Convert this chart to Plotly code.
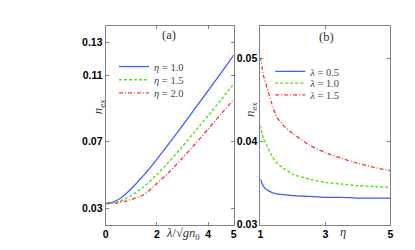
import plotly.graph_objects as go

# ---- panel (a): n_ex vs lambda/sqrt(g n0) ----
lam = [0, 0.25, 0.5, 0.75, 1, 1.5, 2, 2.5, 3, 3.5, 4, 4.5, 5]
a_eta10 = [0.0327, 0.0334, 0.0352, 0.0381, 0.0417, 0.0500, 0.0594, 0.0694, 0.0797, 0.0902, 0.1008, 0.1114, 0.1222]
a_eta15 = [0.0327, 0.0330, 0.0339, 0.0354, 0.0375, 0.0430, 0.0502, 0.0584, 0.0672, 0.0764, 0.0857, 0.0952, 0.1049]
a_eta20 = [0.0327, 0.0328, 0.0332, 0.0340, 0.0351, 0.0382, 0.0448, 0.0520, 0.0602, 0.0688, 0.0776, 0.0866, 0.0955]
a_names = ["<i>η</i> = 1.0", "<i>η</i> = 1.5", "<i>η</i> = 2.0"]
a_xticks = [0, 2, 4, 5]
a_yticks = [0.03, 0.07, 0.11, 0.13]

# ---- panel (b): n_ex vs eta ----
eta = [1, 1.05, 1.1, 1.2, 1.35, 1.5, 1.75, 2, 2.5, 3, 3.5, 4, 4.5, 5]
b_lam05 = [0.0355, 0.0350, 0.0346, 0.0342, 0.0339, 0.0337, 0.0336, 0.0335, 0.0334, 0.0333, 0.0333, 0.0332, 0.0332, 0.0332]
b_lam10 = [0.0420, 0.0410, 0.0403, 0.0395, 0.0383, 0.0375, 0.0367, 0.0361, 0.0355, 0.0351, 0.0349, 0.0347, 0.0346, 0.0345]
b_lam15 = [0.0502, 0.0490, 0.0479, 0.0466, 0.0446, 0.0430, 0.0418, 0.0410, 0.0396, 0.0387, 0.0380, 0.0374, 0.0369, 0.0365]
b_names = ["<i>λ</i> = 0.5", "<i>λ</i> = 1.0", "<i>λ</i> = 1.5"]
b_xticks = [1, 3, 5]
b_yticks = [0.03, 0.04, 0.05]

colors = ["#3f5cff", "#55e01a", "#ff3030"]
dashes = ["solid", "3px,2px", "4px,2px,1px,2px"]
widths = [1.3, 1.4, 1.3]

W, H = 415, 250
def px(x):
    return x / W
def py(y):
    return 1 - y / H

# legend row positions (pixels): text start x, row centre y
a_leg_x, a_leg_rows = 145.5, [60, 73.5, 87]
b_leg_x, b_leg_rows = 304, [65, 77, 89]
TEXT_OFFSET = 41

fig = go.Figure()
legfont = dict(family="Liberation Serif", size=10.5, color="#444")
layout_legends = {}
k = 1
for ys, nm, c, d, w, ry in zip([a_eta10, a_eta15, a_eta20], a_names, colors, dashes, widths, a_leg_rows):
    lname = "legend" if k == 1 else f"legend{k}"
    fig.add_trace(go.Scatter(x=lam, y=ys, name=nm, mode="lines",
                             line=dict(color=c, dash=d, width=w, shape="spline", smoothing=0.6),
                             xaxis="x", yaxis="y", legend=lname))
    layout_legends[lname] = dict(x=px(a_leg_x - TEXT_OFFSET), y=py(ry), xanchor="left", yanchor="middle",
                                 bgcolor="rgba(0,0,0,0)", font=legfont)
    k += 1
for ys, nm, c, d, w, ry in zip([b_lam05, b_lam10, b_lam15], b_names, colors, dashes, widths, b_leg_rows):
    lname = f"legend{k}"
    fig.add_trace(go.Scatter(x=eta, y=ys, name=nm, mode="lines",
                             line=dict(color=c, dash=d, width=w, shape="spline", smoothing=0.6),
                             xaxis="x2", yaxis="y2", legend=lname))
    layout_legends[lname] = dict(x=px(b_leg_x - TEXT_OFFSET), y=py(ry), xanchor="left", yanchor="middle",
                                 bgcolor="rgba(0,0,0,0)", font=legfont)
    k += 1

tickfont = dict(family="Liberation Sans, Arial", size=10.5, color="black", weight="bold")
axcommon = dict(showline=True, linecolor="#808080", linewidth=1, mirror="ticks",
                ticks="inside", ticklen=3, tickcolor="#808080", showgrid=False,
                zeroline=False, tickfont=tickfont)

ydom = [28 / H, 232 / H]
fig.update_layout(
    width=W, height=H, margin=dict(l=0, r=0, t=0, b=0),
    paper_bgcolor="white", plot_bgcolor="white", showlegend=True,
    xaxis=dict(domain=[px(96), px(226)], range=[0, 5], tickvals=a_xticks,
               ticktext=[str(v) for v in a_xticks], anchor="y", **axcommon),
    yaxis=dict(domain=ydom, range=[0.02, 0.14], tickvals=a_yticks,
               ticktext=[f"{v:.2f}" for v in a_yticks], anchor="x", **axcommon),
    xaxis2=dict(domain=[px(253), px(385)], range=[1, 5], tickvals=b_xticks,
                ticktext=[str(v) for v in b_xticks], anchor="y2", **axcommon),
    yaxis2=dict(domain=ydom, range=[0.03, 0.054], tickvals=b_yticks,
                ticktext=[f"{v:.2f}" for v in b_yticks], anchor="x2", **axcommon),
    **layout_legends,
)

def serif(size):
    return dict(family="Liberation Serif", size=size, color="#333")

ann = [
    dict(text="(a)", x=px(160), y=py(28), font=serif(12.5)),
    dict(text="(b)", x=px(320), y=py(30), font=serif(12.5)),
    dict(text="<i>n</i><sub><i>ex</i></sub>", x=px(89), y=py(101), textangle=-90, font=serif(13)),
    dict(text="<i>n</i><sub><i>ex</i></sub>", x=px(243), y=py(104), textangle=-90, font=serif(13)),
    dict(text="<i>λ</i>/√<i>gn</i><sub>0</sub>", x=px(175), y=py(232), font=serif(12.5)),
    dict(text="<i>η</i>", x=px(337), y=py(229), font=serif(12.5)),
]
for a in ann:
    fig.add_annotation(xref="paper", yref="paper", showarrow=False,
                       xanchor="center", yanchor="middle", **a)

fig.write_html("out.html")
